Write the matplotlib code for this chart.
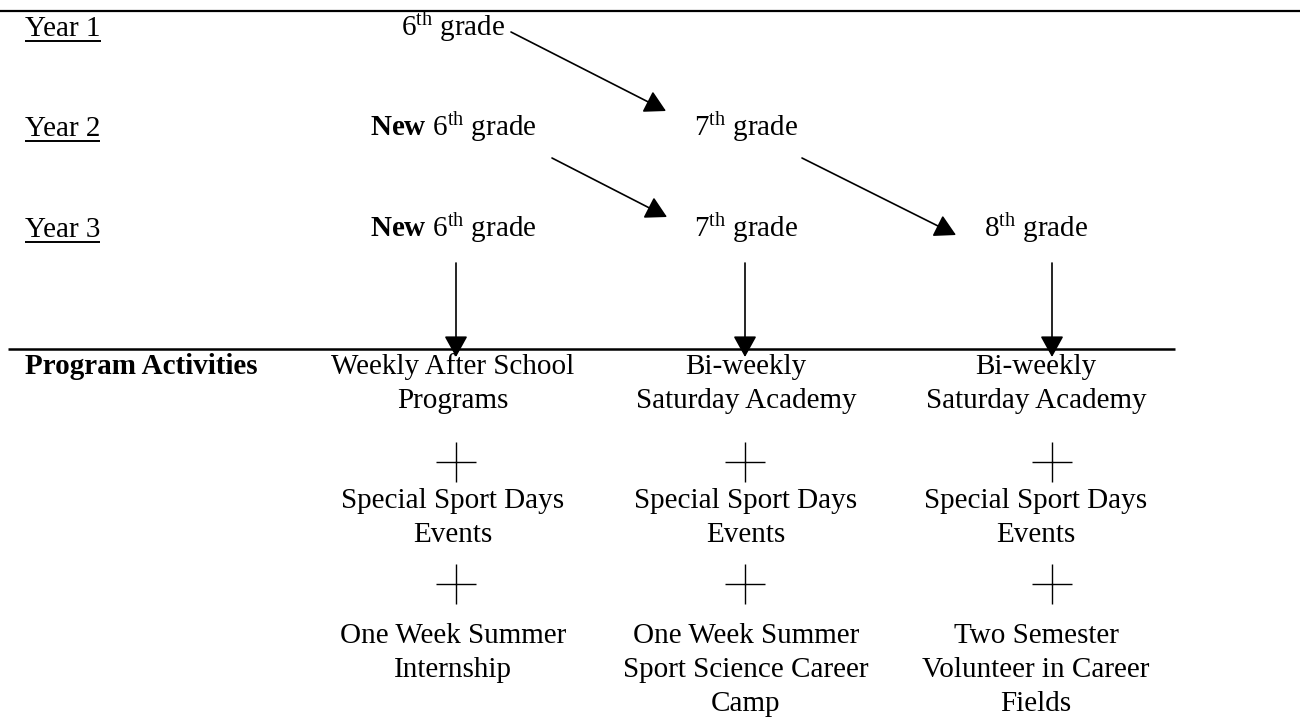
import matplotlib
matplotlib.use("Agg")
import matplotlib.pyplot as plt

plt.rcParams['font.family'] = ['Liberation Serif', 'DejaVu Serif']
plt.rcParams['mathtext.fontset'] = 'custom'
plt.rcParams['mathtext.rm'] = 'Liberation Serif'
plt.rcParams['mathtext.bf'] = 'Liberation Serif:bold'
plt.rcParams['mathtext.it'] = 'Liberation Serif:italic'

# rows of the timeline
year_labels = ["Year 1", "Year 2", "Year 3"]
row_y = [36, 136, 237]
col_text_x = [453, 746, 1036]
col_arrow_x = [456, 745, 1052]

# grade labels per row (None = empty cell)
grades = [
    ["6$^{\\mathrm{th}}$ grade", None, None],
    ["$\\mathbf{New}$ 6$^{\\mathrm{th}}$ grade", "7$^{\\mathrm{th}}$ grade", None],
    ["$\\mathbf{New}$ 6$^{\\mathrm{th}}$ grade", "7$^{\\mathrm{th}}$ grade", "8$^{\\mathrm{th}}$ grade"],
]

# diagonal "moves up a grade" arrows (start, end)
diag_arrows = [
    ((511, 32), (666, 111)),
    ((552, 158), (667, 217)),
    ((802, 158), (956, 235)),
]

activities = [
    ["Weekly After School\nPrograms", "Special Sport Days\nEvents", "One Week Summer\nInternship"],
    ["Bi-weekly\nSaturday Academy", "Special Sport Days\nEvents", "One Week Summer\nSport Science Career\nCamp"],
    ["Bi-weekly\nSaturday Academy", "Special Sport Days\nEvents", "Two Semester\nVolunteer in Career\nFields"],
]
block_y = [374, 508, 643]
plus_y = [462, 584]
line_step = 34

fs = 21

fig = plt.figure(figsize=(13.08, 7.17), dpi=100)
ax = fig.add_axes([0, 0, 1, 1])
ax.set_xlim(0, 1308)
ax.set_ylim(717, 0)
ax.axis('off')

# rules
ax.plot([0, 1300], [11, 11], color='black', lw=1.6, solid_capstyle='butt')
ax.plot([8, 1175], [349, 349], color='black', lw=1.8, solid_capstyle='butt')

# year labels (underlined)
year_texts = []
for lab, y in zip(year_labels, row_y):
    t = ax.text(25, y, lab, fontsize=fs, ha='left', va='baseline')
    year_texts.append(t)

for r, row in enumerate(grades):
    for c, g in enumerate(row):
        if g is None:
            continue
        ax.text(col_text_x[c], row_y[r], g, fontsize=fs, ha='center', va='baseline')

arrow_style = dict(arrowstyle='-|>,head_length=0.65,head_width=0.36', color='black',
                   lw=1.2, shrinkA=0, shrinkB=0, mutation_scale=20)
for (x0, y0), (x1, y1) in diag_arrows:
    ax.annotate('', xy=(x1, y1), xytext=(x0, y0), arrowprops=arrow_style)

# vertical arrows into the activities
for x in col_arrow_x:
    ax.annotate('', xy=(x, 357), xytext=(x, 263), arrowprops=arrow_style)

ax.text(25, 374, "Program Activities", fontsize=fs, fontweight='bold', ha='left', va='baseline')

for c, acts in enumerate(activities):
    for b, act in enumerate(acts):
        for i, line in enumerate(act.split("\n")):
            ax.text(col_text_x[c], block_y[b] + i * line_step, line, fontsize=fs,
                    ha='center', va='baseline')
    for py in plus_y:
        ax.plot([col_arrow_x[c]], [py], marker='+', color='black', ms=29, mew=1.0)

# underline the year labels
fig.canvas.draw()
r = fig.canvas.get_renderer()
inv = ax.transData.inverted()
for t, y in zip(year_texts, row_y):
    bb = t.get_window_extent(renderer=r)
    (xa, _), (xb, _) = inv.transform([(bb.x0, bb.y0), (bb.x1, bb.y1)])
    ax.plot([xa, xb], [y + 5, y + 5], color='black', lw=1.4, solid_capstyle='butt')

fig.savefig("out.png", dpi=100)
